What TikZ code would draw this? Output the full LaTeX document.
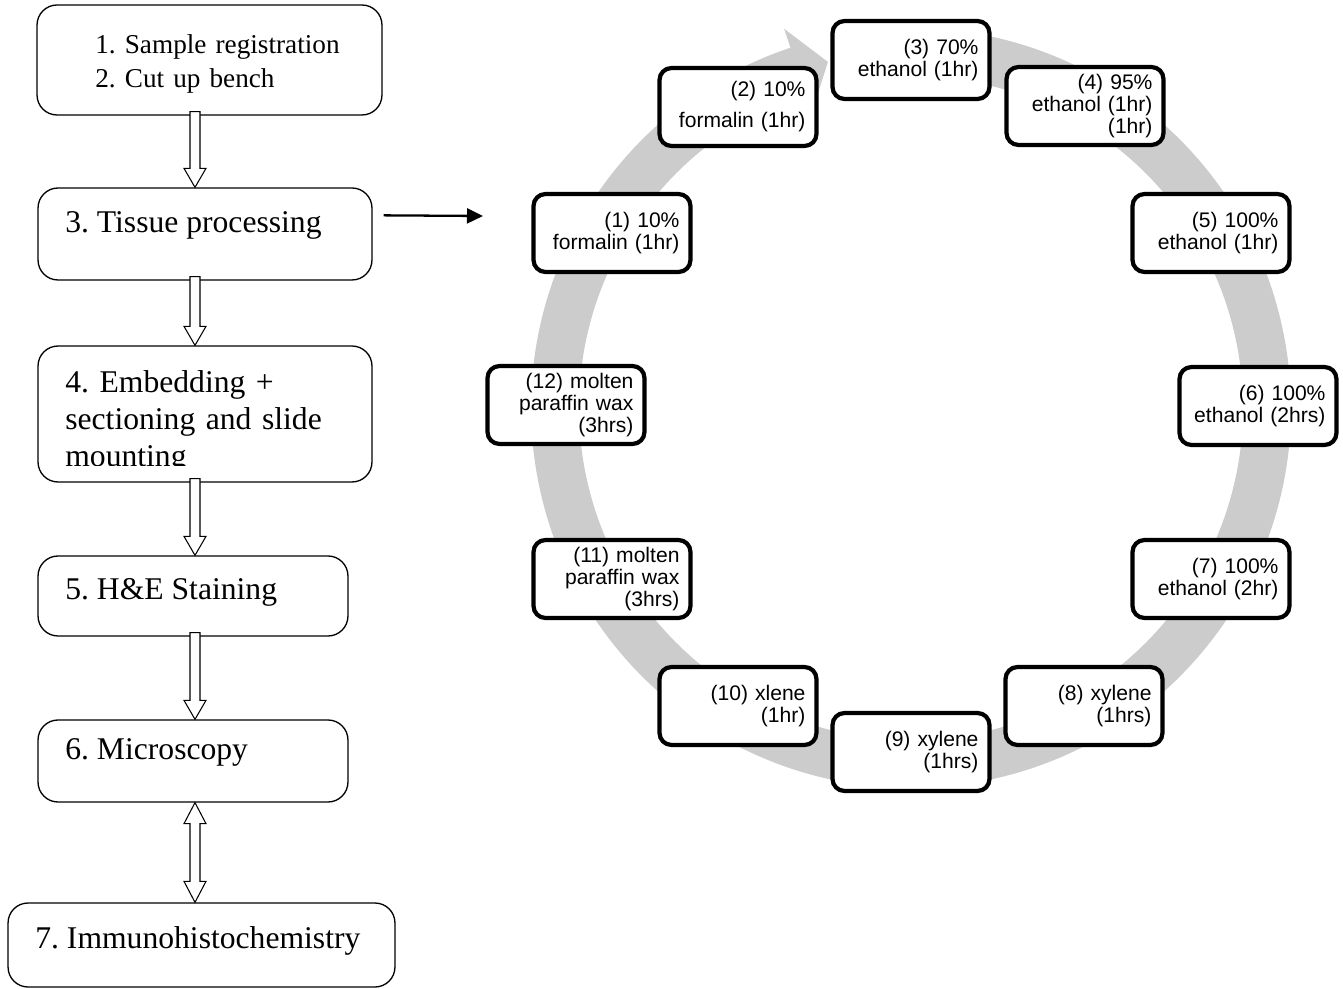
\documentclass[tikz,border=0pt]{standalone}
\usepackage{fontspec}
\setmainfont{Liberation Serif}
\newfontfamily\arialf{Liberation Sans}
\usetikzlibrary{calc,arrows.meta}
\definecolor{ringgray}{RGB}{204,204,204}
\tikzset{
 lbox/.style={draw=black, line width=0.75pt, rounded corners=0.4cm, fill=white, inner sep=0pt},
 ltext/.style={anchor=base west, inner sep=0pt, font=\frenchspacing\fontsize{18}{21}\selectfont, align=left},
 rbox/.style={draw=black, line width=2.4pt, rounded corners=0.24cm, fill=white, minimum width=3.14cm, minimum height=1.56cm, text width=2.7cm, inner xsep=0.22cm, inner ysep=0pt, align=right, font=\arialf\fontsize{12}{12.6}\selectfont},
 blk/.style={draw=black, fill=white, line width=0.6pt},
 link/.style={-{Triangle[length=0.32cm,width=0.3cm]}, line width=1.3pt}
}
\newcommand\BlkDown[2]{\draw[blk] let \p1=(ax |- #1.south), \p2=(ax |- #2.north) in (\x1-0.1cm,\y1+0.08cm) -- (\x1-0.1cm,\y2+0.38cm) -- (\x1-0.22cm,\y2+0.38cm) -- (\x2,\y2) -- (\x1+0.22cm,\y2+0.38cm) -- (\x1+0.1cm,\y2+0.38cm) -- (\x1+0.1cm,\y1+0.08cm) -- cycle;}
\newcommand\BlkBoth[2]{\draw[blk] let \p1=(ax |- #1.south), \p2=(ax |- #2.north) in (\x1,\y1) -- (\x1+0.22cm,\y1-0.42cm) -- (\x1+0.1cm,\y1-0.42cm) -- (\x1+0.1cm,\y2+0.42cm) -- (\x1+0.22cm,\y2+0.42cm) -- (\x2,\y2) -- (\x1-0.22cm,\y2+0.42cm) -- (\x1-0.1cm,\y2+0.42cm) -- (\x1-0.1cm,\y1-0.42cm) -- (\x1-0.22cm,\y1-0.42cm) -- cycle;}
\begin{document}
\frenchspacing
\begin{tikzpicture}[x=0.02cm,y=-0.02cm]
\useasboundingbox (0,0) rectangle (1343,989);
% ring arrow
\begin{scope}[shift={(911,408)}]
\fill[ringgray] (99:7.6cm) arc[start angle=99, end angle=-251.5, radius=7.6cm] -- (108.5:8.0cm) -- (103.5:7.12cm) -- (108.5:6.24cm) -- (-251.5:6.64cm) arc[start angle=-251.5, end angle=99, radius=6.64cm] -- cycle;
\end{scope}
% ring boxes
\node[rbox] (s1) at (612,233) {(1) 10\%\\formalin (1hr)};
\node[rbox] (s2) at (738,107) {(2) 10\%\\[5pt]formalin (1hr)};
\node[rbox] (s3) at (911,60) {(3) 70\%\\ethanol (1hr)};
\node[rbox] (s4) at (1085,106) {(4) 95\%\\ethanol (1hr)\\(1hr)};
\node[rbox] (s5) at (1211,233) {(5) 100\%\\ethanol (1hr)};
\node[rbox] (s6) at (1258,406) {(6) 100\%\\ethanol (2hrs)};
\node[rbox] (s7) at (1211,579) {(7) 100\%\\ethanol (2hr)};
\node[rbox] (s8) at (1084,706) {(8) xylene\\(1hrs)};
\node[rbox] (s9) at (911,752) {(9) xylene\\(1hrs)};
\node[rbox] (s10) at (738,706) {(10) xlene\\(1hr)};
\node[rbox] (s11) at (612,579) {(11) molten\\paraffin wax\\(3hrs)};
\node[rbox] (s12) at (566,405) {(12) molten\\paraffin wax\\(3hrs)};
% left flow
\node[lbox, minimum width=6.9cm, minimum height=2.2cm] (b1) at (209.5,60) {};
\node[ltext, font=\frenchspacing\fontsize{15.5}{19.3}\selectfont, text width=6cm] (t1) at (95,54) {1. Sample registration\\2. Cut up bench};
\node[lbox, minimum width=6.68cm, minimum height=1.84cm] (b3) at (205,234) {};
\node[ltext] (t3) at (65,233) {3. Tissue processing};
\node[lbox, minimum width=6.68cm, minimum height=2.72cm] (b4) at (205,414) {};
\begin{scope}
\clip (40,348) rectangle (370,466);
\node[ltext, text width=6.2cm] (t4) at (65,393) {4. Embedding +\\sectioning and slide\\mounting};
\end{scope}
\node[lbox, minimum width=6.2cm, minimum height=1.6cm] (b5) at (193,596) {};
\node[ltext] (t5) at (65,600) {5. H\&E Staining};
\node[lbox, minimum width=6.2cm, minimum height=1.64cm] (b6) at (193,761) {};
\node[ltext] (t6) at (65,760) {6. Microscopy};
\node[lbox, minimum width=7.74cm, minimum height=1.68cm] (b7) at (201.5,945) {};
\node[ltext] (t7) at (35,948) {7. Immunohistochemistry};
% block arrows
\coordinate (ax) at (195,0);
\BlkDown{b1}{b3}
\BlkDown{b3}{b4}
\BlkDown{b4}{b5}
\BlkDown{b5}{b6}
\BlkBoth{b6}{b7}
% link to ring
\coordinate (rin) at (483,216);
\draw[link] ($(b3.north east)+(11,28)$) -- (rin);
\end{tikzpicture}
\end{document}
